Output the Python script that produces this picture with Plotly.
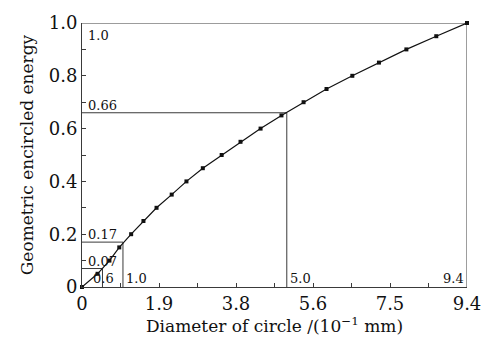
import plotly.graph_objects as go

# Data
diameter = [0, 0.38, 0.67, 0.91, 1.2, 1.5, 1.82, 2.19, 2.55, 2.95, 3.41, 3.87, 4.36,
            4.87, 5.41, 5.97, 6.60, 7.25, 7.92, 8.65, 9.4]
energy = [0, 0.05, 0.10, 0.15, 0.20, 0.25, 0.30, 0.35, 0.40, 0.45, 0.50, 0.55, 0.60,
          0.65, 0.70, 0.75, 0.80, 0.85, 0.90, 0.95, 1.0]

# Reference levels: (x position, y level, x label, y label)
ref_x = [0.5, 1.0, 5.0, 9.4]
ref_y = [0.07, 0.17, 0.66, 1.0]
ref_xlabel = ["0.6", "1.0", "5.0", "9.4"]
ref_ylabel = ["0.07", "0.17", "0.66", "1.0"]

x_tickvals = [0, 1.88, 3.76, 5.64, 7.52, 9.4]
x_ticktext = ["0", "1.9", "3.8", "5.6", "7.5", "9.4"]
y_tickvals = [0, 0.2, 0.4, 0.6, 0.8, 1.0]
y_ticktext = ["0", "0.2", "0.4", "0.6", "0.8", "1.0"]

FONT = "DejaVu Serif"
LINE_COLOR = "#3a3a3a"

fig = go.Figure()

# reference lines
for xv, yv in zip(ref_x, ref_y):
    fig.add_trace(go.Scatter(x=[0, xv, xv], y=[yv, yv, 0], mode="lines",
                             line=dict(color=LINE_COLOR, width=1),
                             hoverinfo="skip", showlegend=False, cliponaxis=False))

fig.add_trace(go.Scatter(x=diameter, y=energy, mode="lines+markers",
                         line=dict(color="#111", width=1.2),
                         marker=dict(symbol="square", size=4, color="#111"),
                         showlegend=False, cliponaxis=False))

ann_font = dict(family=FONT, size=13, color="#111")
# y-level labels
for yv, lab in zip(ref_y, ref_ylabel):
    if lab == "1.0":
        fig.add_annotation(x=0.1, y=yv, text=lab, showarrow=False, xanchor="left",
                           yanchor="top", yshift=-3, font=ann_font)
    else:
        fig.add_annotation(x=0.1, y=yv, text=lab, showarrow=False, xanchor="left",
                           yanchor="bottom", yshift=-2, font=ann_font)
# x-position labels
for xv, lab in zip(ref_x, ref_xlabel):
    if lab == "9.4":
        fig.add_annotation(x=xv, y=0, text=lab, showarrow=False, xanchor="right",
                           yanchor="bottom", xshift=-1, yshift=-1, font=ann_font)
    elif lab == "0.6":
        fig.add_annotation(x=xv, y=0, text=lab, showarrow=False, xanchor="center",
                           yanchor="bottom", xshift=1, yshift=-1, font=ann_font)
    else:
        fig.add_annotation(x=xv, y=0, text=lab, showarrow=False, xanchor="left",
                           yanchor="bottom", xshift=1, yshift=-1, font=ann_font)

fig.update_layout(
    width=496, height=342,
    margin=dict(l=82, r=29, t=12, b=55),
    paper_bgcolor="white", plot_bgcolor="white",
    font=dict(family=FONT, color="#111"),
    xaxis=dict(range=[0, 9.4], tickvals=x_tickvals, ticktext=x_ticktext,
               ticks="inside", ticklen=4, tickcolor=LINE_COLOR,
               showline=True, linecolor=LINE_COLOR, linewidth=1,
               showgrid=False, zeroline=False,
               tickfont=dict(family=FONT, size=18),
               minor=dict(tickvals=[0.94, 2.82, 4.7, 6.58, 8.46], ticks="inside",
                          ticklen=4, tickcolor=LINE_COLOR),
               title=dict(text="Diameter of circle /(10<sup>−1</sup> mm)",
                          font=dict(family=FONT, size=17), standoff=3)),
    yaxis=dict(range=[0, 1.0], tickvals=y_tickvals, ticktext=y_ticktext,
               ticks="inside", ticklen=4, tickcolor=LINE_COLOR,
               showline=True, linecolor=LINE_COLOR, linewidth=1,
               showgrid=False, zeroline=False,
               tickfont=dict(family=FONT, size=18),
               minor=dict(tickvals=[0.1, 0.3, 0.5, 0.7, 0.9], ticks="inside",
                          ticklen=4, tickcolor=LINE_COLOR),
               title=dict(text="Geometric encircled energy",
                          font=dict(family=FONT, size=17), standoff=10)),
)

fig.write_html("out.html")
